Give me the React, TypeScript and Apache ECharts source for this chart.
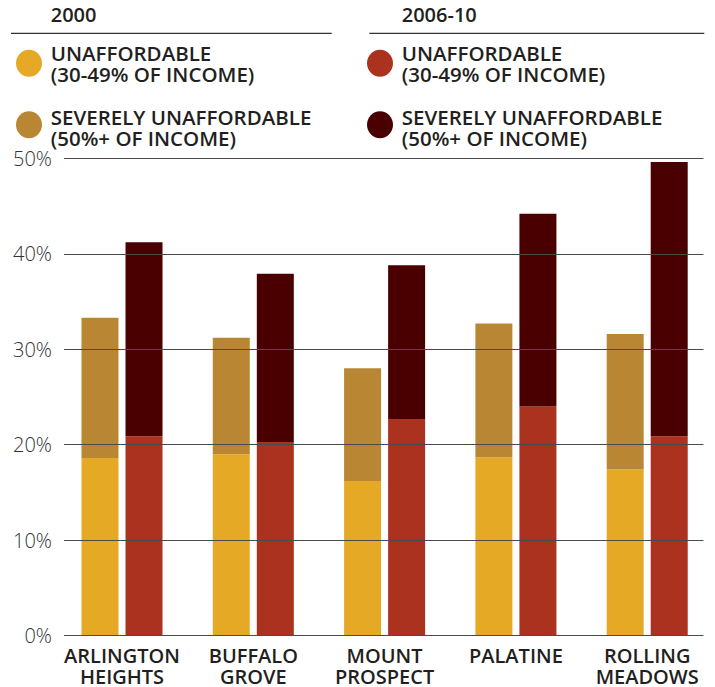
import React, { useEffect, useRef } from "react";
import * as echarts from "echarts";

const categories = [
  "ARLINGTON\nHEIGHTS",
  "BUFFALO\nGROVE",
  "MOUNT\nPROSPECT",
  "PALATINE",
  "ROLLING\nMEADOWS",
];
const unaffordable2000 = [18.6, 19.0, 16.2, 18.7, 17.4];
const severe2000 = [14.7, 12.2, 11.8, 14.0, 14.2];
const unaffordable2010 = [20.9, 20.3, 22.7, 24.0, 20.9];
const severe2010 = [20.3, 17.6, 16.1, 20.2, 28.7];
const yTicks = [0, 10, 20, 30, 40, 50];

const periodHeaders = ["2000", "2006-10"];
const legendLabels = [
  "UNAFFORDABLE\n(30-49% OF INCOME)",
  "SEVERELY UNAFFORDABLE\n(50%+ OF INCOME)",
];

const C_Y = "#E5A925";
const C_G = "#B98733";
const C_R = "#AB321E";
const C_D = "#4A0000";
const FONT = "'Open Sans', sans-serif";
const TXT = "#231f20";

export default function App() {
  const ref = useRef<HTMLDivElement>(null);
  useEffect(() => {
    const chart = echarts.init(ref.current!, null, { renderer: "svg" });
    const barItem = (color: string) => ({ color });
    const legendCol = (x: number, header: string, colors: string[]) => [
      {
        type: "text",
        left: x + 21.7,
        top: 4,
        style: {
          text: header,
          fontFamily: FONT,
          fontWeight: 600,
          fontSize: 20,
          fill: TXT,
        },
      },
      {
        type: "ellipse",
        shape: { cx: x, cy: 63.3, rx: 13, ry: 13.5 },
        style: { fill: colors[0] },
      },
      {
        type: "ellipse",
        shape: { cx: x, cy: 124.7, rx: 13, ry: 13.5 },
        style: { fill: colors[1] },
      },
      {
        type: "text",
        x: x + 21.7,
        y: 42.3,
        style: {
          text: legendLabels[0],
          fontFamily: FONT,
          fontWeight: 600,
          fontSize: 20.5,
          lineHeight: 21,
          fill: TXT,
          verticalAlign: "top",
        },
      },
      {
        type: "text",
        x: x + 21.7,
        y: 106.7,
        style: {
          text: legendLabels[1],
          fontFamily: FONT,
          fontWeight: 600,
          fontSize: 20.5,
          lineHeight: 21,
          fill: TXT,
          verticalAlign: "top",
        },
      },
    ];
    chart.setOption({
      animation: false,
      grid: [
        { left: 64, right: 11.5, top: 158.3, bottom: 51.3 },
        { left: 56.35, right: 2.15, top: 158.3, bottom: 51.3 },
      ],
      xAxis: [
        { type: "value", gridIndex: 0, show: false },
        {
          type: "category",
          gridIndex: 1,
          data: categories,
          axisLine: { show: false },
          axisTick: { show: false },
          axisLabel: {
            interval: 0,
            margin: 9,
            fontFamily: FONT,
            fontWeight: 600,
            fontSize: 20,
            lineHeight: 21,
            color: TXT,
          },
        },
      ],
      yAxis: [
        {
          type: "value",
          gridIndex: 0,
          min: yTicks[0],
          max: yTicks[yTicks.length - 1],
          interval: yTicks[1] - yTicks[0],
          z: 10,
          axisLine: { show: false },
          axisTick: { show: false },
          axisLabel: {
            formatter: "{value}%",
            margin: 12,
            fontFamily: FONT,
            fontWeight: 300,
            fontSize: 20,
            color: "#333",
          },
          splitLine: { show: true, lineStyle: { color: "#4a4a4a", width: 1 } },
        },
        {
          type: "value",
          gridIndex: 1,
          min: yTicks[0],
          max: yTicks[yTicks.length - 1],
          interval: yTicks[1] - yTicks[0],
          show: false,
          splitLine: { show: false },
        },
      ],
      series: [
        {
          type: "bar",
          name: "2000 unaffordable",
          xAxisIndex: 1,
          yAxisIndex: 1,
          stack: "a",
          barWidth: 37,
          barGap: "19%",
          data: unaffordable2000,
          itemStyle: barItem(C_Y),
        },
        {
          type: "bar",
          name: "2000 severe",
          xAxisIndex: 1,
          yAxisIndex: 1,
          stack: "a",
          barWidth: 37,
          barGap: "19%",
          data: severe2000,
          itemStyle: barItem(C_G),
        },
        {
          type: "bar",
          name: "2006-10 unaffordable",
          xAxisIndex: 1,
          yAxisIndex: 1,
          stack: "b",
          barWidth: 37,
          barGap: "19%",
          data: unaffordable2010,
          itemStyle: barItem(C_R),
        },
        {
          type: "bar",
          name: "2006-10 severe",
          xAxisIndex: 1,
          yAxisIndex: 1,
          stack: "b",
          barWidth: 37,
          barGap: "19%",
          data: severe2010,
          itemStyle: barItem(C_D),
        },
      ],
      graphic: [
        {
          type: "line",
          shape: { x1: 11, y1: 33.3, x2: 331.7, y2: 33.3 },
          style: { stroke: "#333", lineWidth: 1.2 },
        },
        {
          type: "line",
          shape: { x1: 369.3, y1: 33.3, x2: 704.3, y2: 33.3 },
          style: { stroke: "#333", lineWidth: 1.2 },
        },
        ...legendCol(29, periodHeaders[0], [C_Y, C_G]),
        ...legendCol(380, periodHeaders[1], [C_R, C_D]),
      ],
    });
    return () => chart.dispose();
  }, []);
  return (
    <div
      ref={ref}
      style={{ position: "absolute", left: 0, top: 0, width: 715, height: 687 }}
    />
  );
}
